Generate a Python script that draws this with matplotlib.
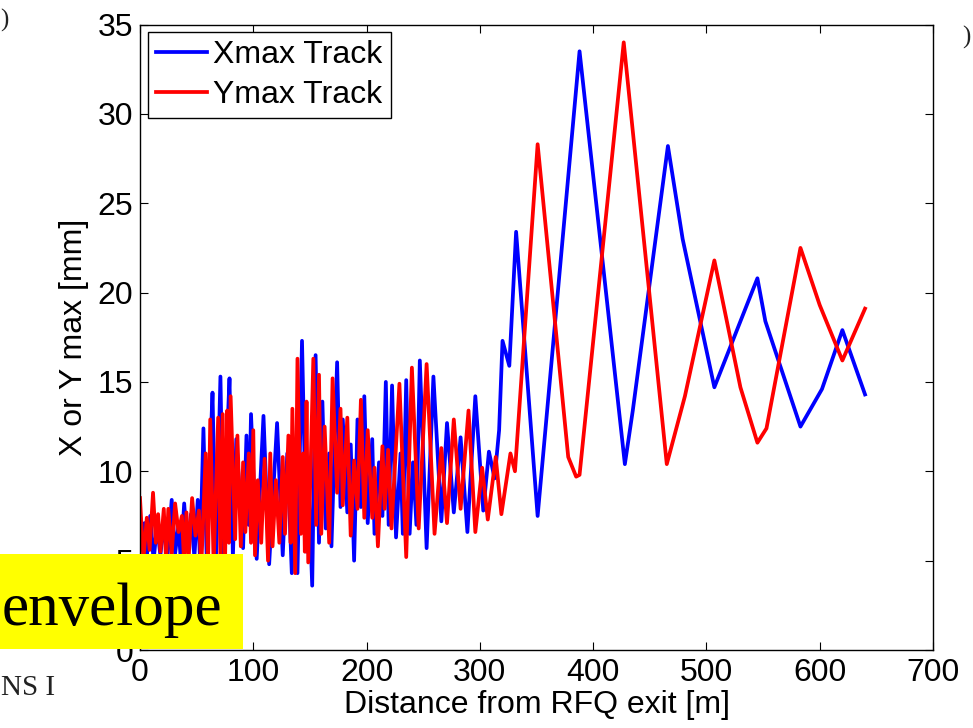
import matplotlib.pyplot as plt
from matplotlib.patches import Rectangle

# beam envelope along the linac, (distance [m], size [mm])
xmax_track = [(1, 6.0), (4, 7.1), (6, 5.2), (9, 7.5), (12, 5.0), (15, 7.0), (18, 5.3),
              (21, 7.2), (24, 5.0), (28, 8.4), (31, 5.4), (34, 7.0), (36, 5.0), (39, 8.2),
              (42, 5.6), (45, 7.6), (48, 5.2), (51, 8.4), (53, 5.0), (56, 12.4), (59, 4.8),
              (62, 11.0), (64, 14.4), (67, 5.0), (71, 15.3), (74, 4.6), (77, 12.0), (79, 15.2),
              (82, 5.2), (85, 11.8), (91, 5.7), (94, 12.0), (96, 7.0), (98, 13.2), (103, 5.1),
              (109, 13.1), (114, 4.8), (121, 12.7), (126, 5.3), (130, 11.0), (134, 4.3),
              (136, 10.0), (139, 4.3), (143, 17.3), (147, 5.5), (149, 9.0), (152, 3.6),
              (155, 16.5), (158, 6.0), (161, 13.9), (164, 6.8), (167, 11.0), (169, 5.8),
              (174, 16.1), (177, 8.0), (179, 12.9), (183, 7.7), (186, 11.5), (189, 5.0),
              (192, 12.9), (195, 8.0), (198, 14.2), (201, 7.1), (205, 11.8), (207, 6.5),
              (211, 10.5), (214, 7.5), (217, 15.0), (219.5, 7.0), (222.5, 14.8), (226, 6.3),
              (230, 11.0), (232, 6.5), (235, 15.1), (238, 6.5), (241, 10.5), (244, 7.0),
              (247, 16.2), (253, 5.7), (259, 15.3), (266, 7.2), (271, 12.7), (277, 7.7),
              (283, 11.9), (289, 6.6), (296, 14.2), (303, 7.8), (308, 11.1), (313, 9.6),
              (317, 12.3), (320, 17.3), (326, 15.9), (332, 23.4), (351, 7.5), (388, 33.5),
              (428, 10.4), (435, 13.4), (466, 28.2), (479, 23.0), (507, 14.7), (545, 20.8),
              (552, 18.4), (583, 12.5), (602, 14.6), (620, 17.9), (640, 14.3)]

ymax_track = [(0, 8.5), (3, 5.0), (6, 7.4), (8.5, 5.6), (11.5, 8.8), (14, 6.0), (16, 7.6),
              (18, 5.5), (21, 7.9), (23, 5.0), (25, 7.9), (28, 5.4), (31, 8.2), (34, 6.6),
              (37, 7.5), (39, 4.8), (41, 7.7), (43, 5.2), (46, 8.5), (49, 6.4), (52, 7.8),
              (54, 4.5), (58, 11.0), (60, 4.5), (62, 12.9), (65, 4.8), (69, 13.0), (71, 5.0),
              (73, 13.2), (75, 4.6), (77, 13.4), (78.5, 6.0), (80, 14.2), (84, 6.2), (86, 12.0),
              (89, 5.8), (91, 10.5), (93, 6.6), (96, 11.0), (98, 6.0), (100, 12.3), (101.5, 5.3),
              (104, 9.5), (107, 6.0), (110, 10.7), (113, 5.0), (115, 11.0), (117, 5.8),
              (120, 9.5), (123, 6.0), (126, 10.8), (128, 6.5), (131, 12.0), (133, 6.0),
              (134.5, 13.5), (137, 4.3), (139, 16.3), (142, 6.5), (144, 11.0), (145.5, 5.5),
              (147, 13.9), (148.5, 4.9), (153, 16.3), (155.5, 7.0), (158, 15.4), (160, 6.5),
              (163, 12.5), (167, 6.0), (170, 15.2), (174, 8.8), (177, 13.5), (179, 8.1),
              (183, 13.0), (186, 6.4), (189, 10.6), (192, 7.9), (195, 14.0), (198, 7.4),
              (201, 12.3), (205, 7.4), (207, 10.2), (210, 5.8), (214, 11.4), (216, 7.9),
              (219, 11.2), (222, 6.8), (229, 14.9), (235, 5.2), (240, 15.8), (246, 6.8),
              (253, 16.0), (260, 6.5), (266, 11.3), (271, 7.1), (277, 12.9), (283, 7.9),
              (290, 13.4), (296, 6.6), (302, 10.2), (307, 7.3), (314, 10.8), (319, 7.6),
              (327, 11.0), (331, 10.0), (351, 28.3), (378, 10.8), (385, 9.7), (388, 9.8),
              (427, 34.0), (465, 10.4), (481, 14.2), (507, 21.8), (530, 14.7), (545, 11.6),
              (553, 12.4), (583, 22.5), (600, 19.3), (620, 16.2), (640, 19.1)]

xticks = [0, 100, 200, 300, 400, 500, 600, 700]
yticks = [0, 5, 10, 15, 20, 25, 30, 35]

plt.rcParams['font.family'] = ['Liberation Sans', 'DejaVu Sans']
plt.rcParams['font.size'] = 23

fig = plt.figure(figsize=(9.73, 7.28), dpi=100)
ax = fig.add_axes([140 / 973, 1 - 650 / 728, 793 / 973, 625.5 / 728])

bx, by = zip(*xmax_track)
rx, ry = zip(*ymax_track)
ax.plot(bx, by, color='#0000ff', lw=2.7, label='Xmax Track')
ax.plot(rx, ry, color='#ff0000', lw=2.7, label='Ymax Track')

ax.set_xlim(0, 700)
ax.set_ylim(0, 35)
ax.set_xticks(xticks)
ax.set_yticks(yticks)
ax.tick_params(direction='in', length=5.5, width=0.8, top=True, right=True)
ax.tick_params(axis='x', pad=6)
ax.tick_params(axis='y', pad=5)
for s in ax.spines.values():
    s.set_linewidth(1.0)

ax.set_xlabel('Distance from RFQ exit [m]', labelpad=1)
ax.set_ylabel('X or Y max [mm]', labelpad=6)

leg = ax.legend(loc='upper left', fancybox=False, edgecolor='black', framealpha=1,
                handlelength=1.6, handletextpad=0.2, labelspacing=0.3,
                borderpad=0.25, borderaxespad=0.25)
leg.get_frame().set_linewidth(1.0)

# yellow caption box over the lower left corner
fig.add_artist(Rectangle((0, 1 - 649 / 728), 243 / 973, 95 / 728,
                         transform=fig.transFigure, facecolor='#ffff00',
                         edgecolor='none', zorder=5))
fig.text(2 / 973, 1 - 625 / 728, 'envelope', ha='left', va='baseline',
         family=['Liberation Serif'], fontsize=44, zorder=6)
fig.text(1 / 973, 1 - 695 / 728, 'NS I', ha='left', va='baseline',
         family=['Liberation Serif'], fontsize=21, color='#222222')
fig.text(0, 1 - 27 / 728, ')', ha='left', va='baseline',
         family=['Liberation Serif'], fontsize=18, color='#222222')
fig.text(962 / 973, 1 - 44 / 728, ')', ha='left', va='baseline',
         family=['Liberation Serif'], fontsize=18, color='#222222')

fig.savefig('out.png', dpi=100)
